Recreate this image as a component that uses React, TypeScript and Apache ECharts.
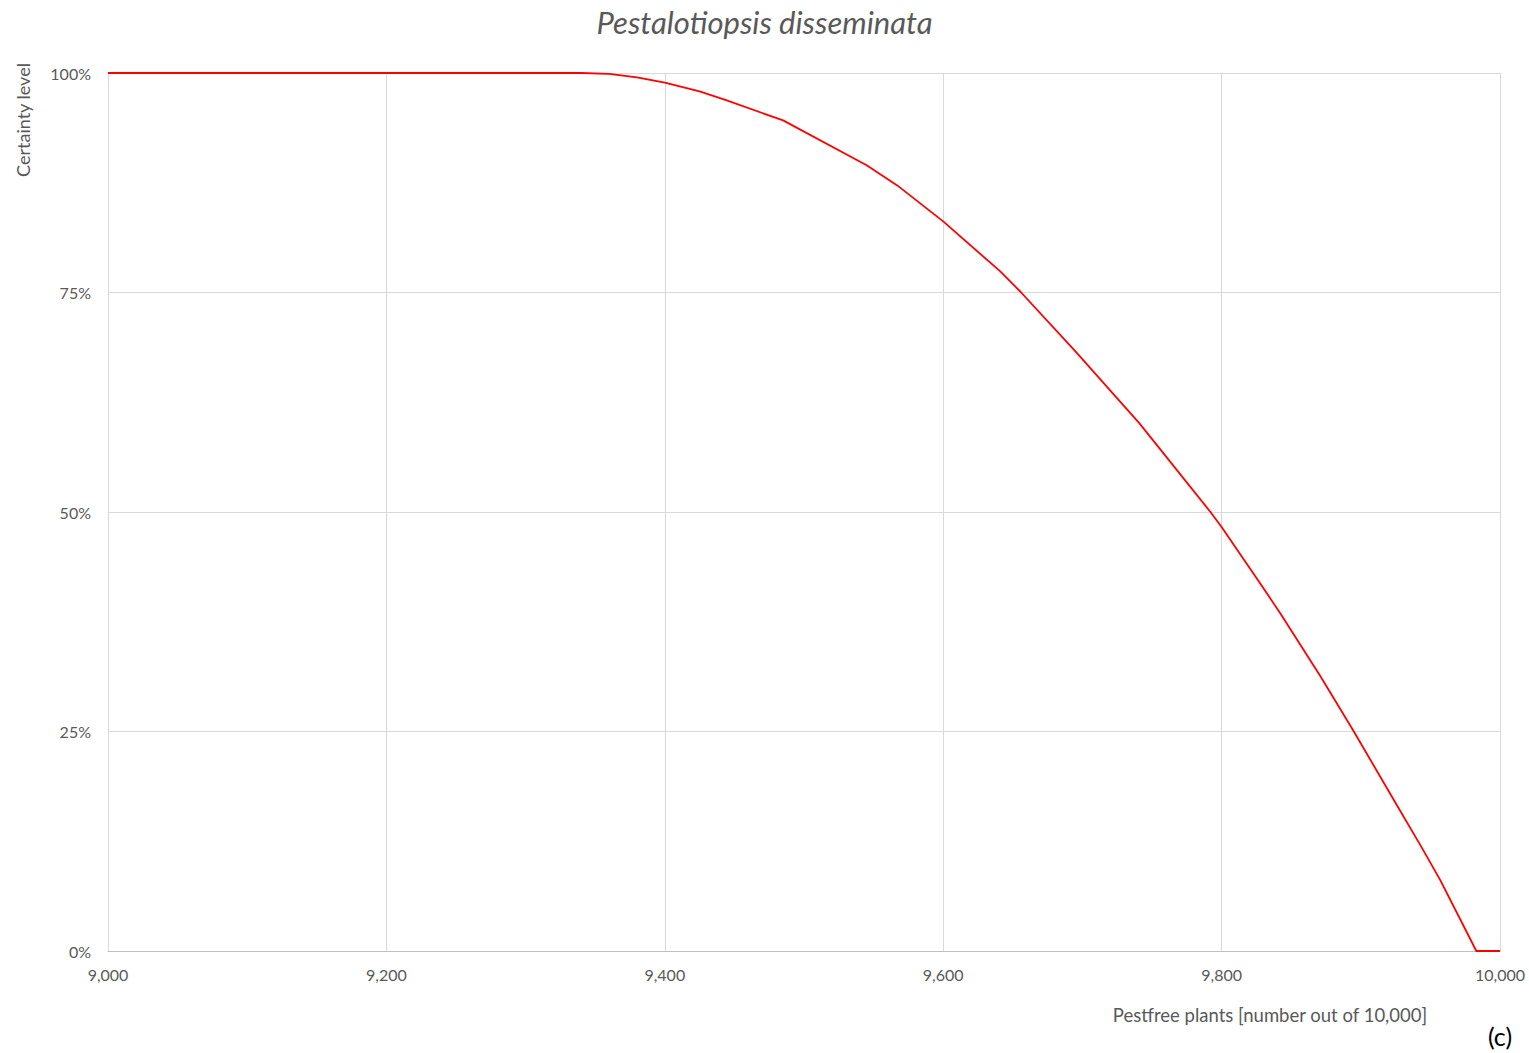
import React, { useEffect, useRef } from "react";
import * as echarts from "echarts";

const titleText = "Pestalotiopsis disseminata";
const xAxisTitle = "Pestfree plants [number out of 10,000]";
const yAxisTitle = "Certainty level";
const panelLabel = "(c)";

// Pestfree plants (number out of 10,000)
const pestfree = [
  9000, 9340, 9360, 9380, 9400, 9425, 9444, 9485, 9545, 9567, 9600, 9641, 9656,
  9695, 9741, 9792, 9800, 9828, 9842, 9871, 9895, 9923, 9943, 9957, 9983, 10000,
];
// Certainty level (%)
const certainty = [
  100, 100, 99.9, 99.5, 98.9, 97.9, 96.9, 94.6, 89.5, 87.2, 83.1, 77.4, 75.0,
  68.3, 60.1, 50.0, 48.3, 41.8, 38.5, 31.3, 25.0, 17.4, 12.0, 8.1, 0, 0,
];

const xTicks = { min: 9000, max: 10000, interval: 200 };
const yTicks = { min: 0, max: 100, interval: 25 };

const FONT = "Lato";
const GREY = "#595959";

export default function App() {
  const ref = useRef<HTMLDivElement>(null);
  useEffect(() => {
    if (!ref.current) return;
    const chart = echarts.init(ref.current, null, { renderer: "svg" });
    const data = pestfree.map((x, i) => [x, certainty[i]]);
    chart.setOption({
      animation: false,
      backgroundColor: "#ffffff",
      textStyle: { fontFamily: FONT },
      title: {
        text: titleText,
        left: "center",
        top: 1,
        textStyle: {
          fontFamily: FONT,
          fontStyle: "italic",
          fontWeight: "normal",
          fontSize: 31,
          color: GREY,
        },
      },
      grid: { left: 108, right: 29, top: 73, bottom: 102, containLabel: false },
      xAxis: {
        type: "value",
        min: xTicks.min,
        max: xTicks.max,
        interval: xTicks.interval,
        axisLine: { show: true, lineStyle: { color: "#bfbfbf", width: 1 } },
        axisTick: { show: false },
        axisLabel: {
          color: GREY,
          fontSize: 16,
          fontFamily: FONT,
          margin: 15,
          formatter: (v: number) => v.toLocaleString("en-US"),
        },
        splitLine: { show: true, lineStyle: { color: "#d9d9d9", width: 1 } },
      },
      yAxis: {
        type: "value",
        min: yTicks.min,
        max: yTicks.max,
        interval: yTicks.interval,
        axisLine: { show: false },
        axisTick: { show: false },
        axisLabel: {
          color: GREY,
          fontSize: 16,
          fontFamily: FONT,
          margin: 17,
          formatter: "{value}%",
        },
        splitLine: { show: true, lineStyle: { color: "#d9d9d9", width: 1 } },
      },
      graphic: [
        {
          type: "text",
          x: 23,
          y: 120,
          rotation: Math.PI / 2,
          style: {
            text: yAxisTitle,
            fill: GREY,
            fontSize: 18,
            fontFamily: FONT,
            align: "center",
            verticalAlign: "middle",
          },
        },
        {
          type: "text",
          x: 1270,
          y: 1015,
          style: {
            text: xAxisTitle,
            fill: GREY,
            fontSize: 18.5,
            fontFamily: FONT,
            align: "center",
            verticalAlign: "middle",
          },
        },
        {
          type: "text",
          x: 1500,
          y: 1036,
          style: {
            text: panelLabel,
            fill: "#000000",
            fontSize: 25,
            fontFamily: FONT,
            align: "center",
            verticalAlign: "middle",
          },
        },
      ],
      series: [
        {
          type: "line",
          data,
          showSymbol: false,
          smooth: false,
          lineStyle: { color: "#ff0000", width: 1.8, join: "round" },
          itemStyle: { color: "#ff0000" },
        },
      ],
    });
    return () => chart.dispose();
  }, []);
  return (
    <div
      ref={ref}
      style={{ position: "absolute", left: 0, top: 0, width: 1529, height: 1053 }}
    />
  );
}
